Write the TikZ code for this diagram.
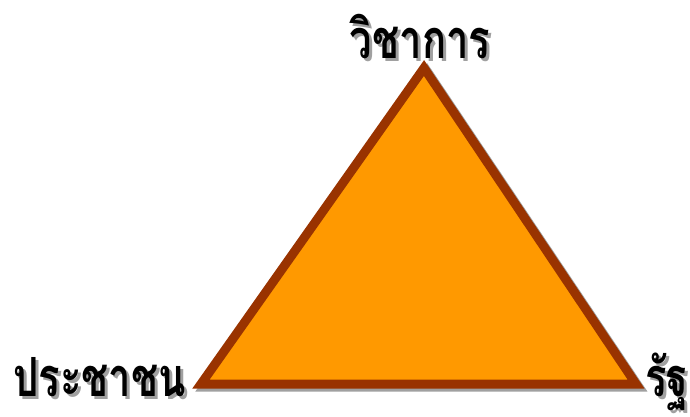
\documentclass[tikz,border=0pt]{standalone}
\usepackage{fontspec}
\usepackage{graphicx}
\newfontfamily\thaifont[Script=Thai]{Loma}
\definecolor{triFill}{HTML}{FF9900}
\definecolor{triEdge}{HTML}{993300}
\definecolor{shade}{HTML}{A0A0A0}
\newcommand{\tall}[1]{\scalebox{1}[1.35]{#1}}
\begin{document}
\begin{tikzpicture}[x=1pt,y=-1pt,
  lbl/.style={font=\thaifont\bfseries\fontsize{40}{40}\selectfont, inner sep=0pt},
  shadowlbl/.style={lbl, text=shade},
  triedge/.style={draw=triEdge, line width=9pt, line join=miter, fill=triFill},
  trishadow/.style={draw=shade, line width=9pt, line join=miter}]
\useasboundingbox (0,0) rectangle (690,417);
\coordinate (A) at (424,68);
\coordinate (B) at (201,384);
\coordinate (C) at (636,384);
\begin{scope}[shift={(3,3)}]
  \draw[trishadow] (424,68) -- (201,384) -- (636,384) -- cycle;
\end{scope}
\draw[triedge] (A) -- (B) -- (C) -- cycle;
\node[shadowlbl] at (423,40) {\tall{วิชาการ}};
\node[lbl] (top) at (420,37) {\tall{วิชาการ}};
\node[shadowlbl, anchor=east] at (189,380) {\tall{ประชาชน}};
\node[lbl, anchor=east] (left) at (186,377) {\tall{ประชาชน}};
\node[shadowlbl, anchor=west] at (648,385) {\tall{รัฐ}};
\node[lbl, anchor=west] (right) at (645,382) {\tall{รัฐ}};
\end{tikzpicture}
\end{document}
